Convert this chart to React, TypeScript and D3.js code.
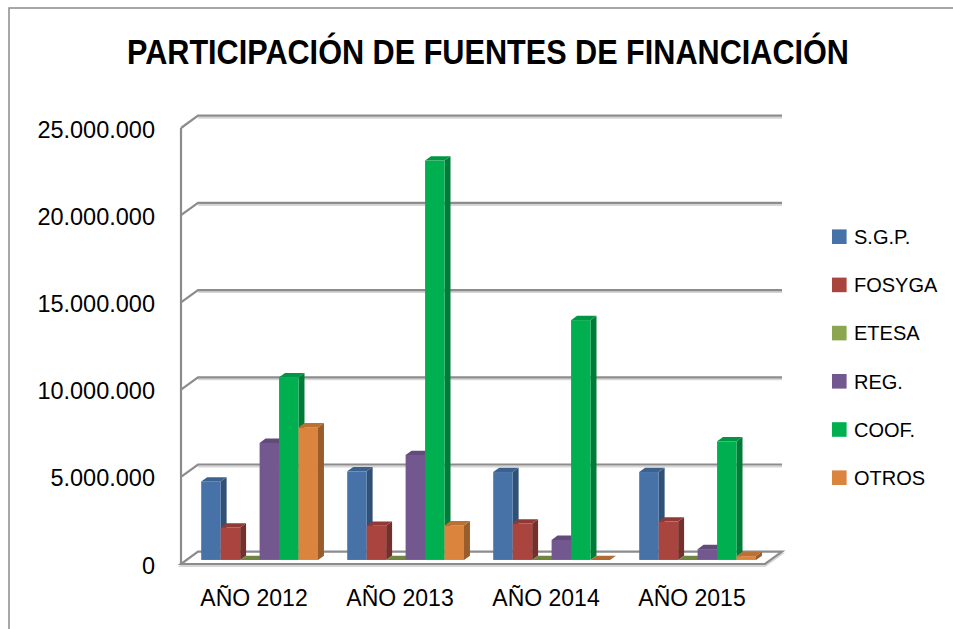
import React from 'react';
import * as d3 from 'd3';

const categories = ['AÑO 2012', 'AÑO 2013', 'AÑO 2014', 'AÑO 2015'];
const seriesNames = ['S.G.P.', 'FOSYGA', 'ETESA', 'REG.', 'COOF.', 'OTROS'];
const sgp = [4500000, 5080000, 5040000, 5040000];
const fosyga = [1860000, 1960000, 2090000, 2200000];
const etesa = [0, 0, 0, 0];
const reg = [6710000, 6020000, 1150000, 620000];
const coof = [10470000, 22900000, 13750000, 6800000];
const otros = [7600000, 1980000, 0, 220000];
const yTicks = [0, 5000000, 10000000, 15000000, 20000000, 25000000];
const seriesColors = ['#4672A7', '#A9443F', '#8BA64E', '#735890', '#00B050', '#DB843D'];
const title = 'PARTICIPACIÓN DE FUENTES DE FINANCIACIÓN';

const seriesValues = [sgp, fosyga, etesa, reg, coof, otros];

const W = 953;
const H = 629;
const DX = 17;
const DY = -12.3;
const F1 = 0.33;
const F2 = 0.68;

const locale = d3.formatLocale({ decimal: ',', thousands: '.', grouping: [3], currency: ['$', ''] });
const fmt = locale.format(',');

export default function App() {
  const y = d3.scaleLinear().domain([0, 25000000]).range([564, 128]);
  const x = d3.scaleBand<string>().domain(categories).range([181, 765]).paddingInner(0).paddingOuter(0);
  const bw = x.bandwidth() / 7.5;
  const inner = d3.scaleBand<string>().domain(seriesNames).range([0.75 * bw, 6.75 * bw]).padding(0);

  const xL = 181;
  const xR = 765;
  const y0 = y(0);

  const gridColor = '#8c8c8c';
  const shadowColor = '#d6d6d6';

  const bars: React.ReactNode[] = [];
  categories.forEach((cat, ci) => {
    seriesNames.forEach((s, si) => {
      const v = seriesValues[si][ci];
      const bx = (x(cat) as number) + (inner(s) as number);
      const w = inner.bandwidth();
      const yt = y(v);
      const base = y(0);
      const c = d3.color(seriesColors[si])!;
      const top = c.darker(0.45).formatHex();
      const side = c.darker(1.0).formatHex();
      const fx1 = bx + DX * F1;
      const fx2 = bx + DX * F2;
      const ty1 = yt + DY * F1;
      const ty2 = yt + DY * F2;
      const by1 = base + DY * F1;
      const by2 = base + DY * F2;
      bars.push(
        <g key={`${ci}-${si}`}>
          {v > 0 && (
            <polygon
              points={`${fx1 + w},${ty1} ${fx2 + w},${ty2} ${fx2 + w},${by2} ${fx1 + w},${by1}`}
              fill={side}
            />
          )}
          {v > 0 && <rect x={fx1} y={ty1} width={w} height={by1 - ty1} fill={seriesColors[si]} />}
          <polygon
            points={`${fx1},${ty1} ${fx1 + w},${ty1} ${fx2 + w},${ty2} ${fx2},${ty2}`}
            fill={v > 0 ? top : c.darker(0.6).formatHex()}
          />
        </g>
      );
    });
  });

  return (
    <div style={{ position: 'absolute', left: 0, top: 0, width: W, height: H, background: '#fff' }}>
      <svg width={W} height={H} style={{ display: 'block' }} fontFamily="'Liberation Sans', Arial, sans-serif">
        <rect x={0} y={0} width={W} height={H} fill="#ffffff" />
        <rect x={9} y={8} width={W + 20} height={H + 20} fill="none" stroke="#8a8a8a" strokeWidth={1.5} />
        <text
          x={488}
          y={64}
          textAnchor="middle"
          fontSize={35}
          fontWeight="bold"
          fill="#000"
          textLength={722}
          lengthAdjust="spacingAndGlyphs"
        >
          {title}
        </text>

        {/* back wall gridlines with diagonal ticks */}
        {yTicks.filter((t) => t > 0).map((t) => (
          <g key={`g${t}`}>
            <line x1={xL + DX} x2={xR + DX} y1={y(t) + DY + 2} y2={y(t) + DY + 2} stroke={shadowColor} strokeWidth={2} />
            <polyline
              points={`${xL},${y(t)} ${xL + DX},${y(t) + DY} ${xR + DX},${y(t) + DY}`}
              fill="none"
              stroke={gridColor}
              strokeWidth={2.2}
            />
          </g>
        ))}

        {/* floor */}
        <polygon
          points={`${xL},${y0 + 2} ${xR},${y0 + 2} ${xR + DX},${y0 + DY + 2} ${xL + DX},${y0 + DY + 2}`}
          fill="none"
          stroke={shadowColor}
          strokeWidth={2}
        />
        <polygon
          points={`${xL},${y0} ${xR},${y0} ${xR + DX},${y0 + DY} ${xL + DX},${y0 + DY}`}
          fill="#ffffff"
          stroke={gridColor}
          strokeWidth={2.2}
        />

        {/* front vertical axis */}
        <line x1={xL} x2={xL} y1={y(25000000)} y2={y0} stroke={gridColor} strokeWidth={2.2} />

        {bars}

        {/* y labels */}
        {yTicks.map((t) => (
          <text key={`yl${t}`} x={155} y={y(t) + 9.5} textAnchor="end" fontSize={23.5} fill="#000">
            {fmt(t)}
          </text>
        ))}

        {/* x labels */}
        {categories.map((c) => (
          <text
            key={c}
            x={(x(c) as number) + x.bandwidth() / 2}
            y={606}
            textAnchor="middle"
            fontSize={23}
            fill="#000"
          >
            {c}
          </text>
        ))}

        {/* legend */}
        {seriesNames.map((s, i) => {
          const cy = 236.7 + i * 48.2;
          return (
            <g key={s}>
              <rect x={832} y={cy - 7.3} width={14.6} height={14.6} fill={seriesColors[i]} />
              <text x={854} y={cy + 7.2} fontSize={20} fill="#000">
                {s}
              </text>
            </g>
          );
        })}
      </svg>
    </div>
  );
}
